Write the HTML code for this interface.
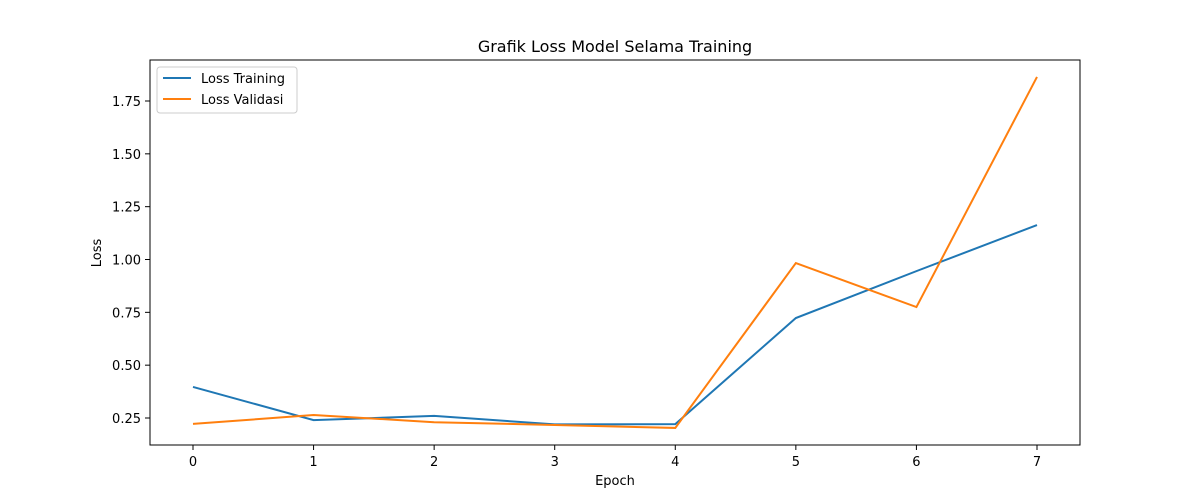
<!DOCTYPE html>
<html><head><meta charset="utf-8"><style>
body{margin:0;background:#fff;}
svg{display:block;font-family:"DejaVu Sans","Liberation Sans",sans-serif;}
</style></head><body>
<svg id="chart" width="1200" height="500">
<text x="615" y="52" font-size="16" text-anchor="middle">Grafik Loss Model Selama Training</text>
<rect x="150" y="60" width="930" height="385" fill="none" stroke="#000" stroke-width="1"/>
<g id="xt"></g><g id="yt"></g><g id="lines"></g>
<text x="615" y="485" font-size="13" text-anchor="middle">Epoch</text>
<text x="101" y="253" font-size="13" text-anchor="middle" transform="rotate(-90 101 253)">Loss</text>
<g>
<rect x="157" y="67" width="140" height="46" rx="3" fill="#fff" stroke="#ccc"/>
<line x1="163" y1="78" x2="191" y2="78" stroke="#1f77b4" stroke-width="2"/>
<text x="201" y="83" font-size="13">Loss Training</text>
<line x1="163" y1="99" x2="191" y2="99" stroke="#ff7f0e" stroke-width="2"/>
<text x="201" y="104" font-size="13">Loss Validasi</text>
</g>
</svg>
<script>
const epochs=[0,1,2,3,4,5,6,7];
const trainLoss=[0.397,0.240,0.260,0.220,0.221,0.723,0.945,1.163];
const valLoss=[0.222,0.264,0.230,0.217,0.203,0.983,0.775,1.864];
const yTicks=[0.25,0.50,0.75,1.00,1.25,1.50,1.75];
const NS="http://www.w3.org/2000/svg";
const xs=e=>193+e*120.57;
const ys=v=>418-(v-0.25)*211.33;
function mk(t,a,p){const el=document.createElementNS(NS,t);for(const k in a)el.setAttribute(k,a[k]);p.appendChild(el);return el;}
const xt=document.getElementById('xt'),yt=document.getElementById('yt'),lg=document.getElementById('lines');
epochs.forEach(e=>{const x=xs(e);
mk('line',{x1:x,x2:x,y1:445,y2:450,stroke:'#000'},xt);
const t=mk('text',{x:x,y:466,'font-size':13,'text-anchor':'middle'},xt);t.textContent=e;

});
yTicks.forEach(v=>{const y=ys(v);
mk('line',{x1:145,x2:150,y1:y,y2:y,stroke:'#000'},yt);
const t=mk('text',{x:141,y:y+5,'font-size':13,'text-anchor':'end'},yt);t.textContent=v.toFixed(2);

});
function line(d,c,n){const p=mk('polyline',{points:d.map((v,i)=>xs(epochs[i])+','+ys(v)).join(' '),fill:'none',stroke:c,'stroke-width':2},lg);

}
line(trainLoss,'#1f77b4','training-loss-line');
line(valLoss,'#ff7f0e','validation-loss-line');
</script>
</body></html>
